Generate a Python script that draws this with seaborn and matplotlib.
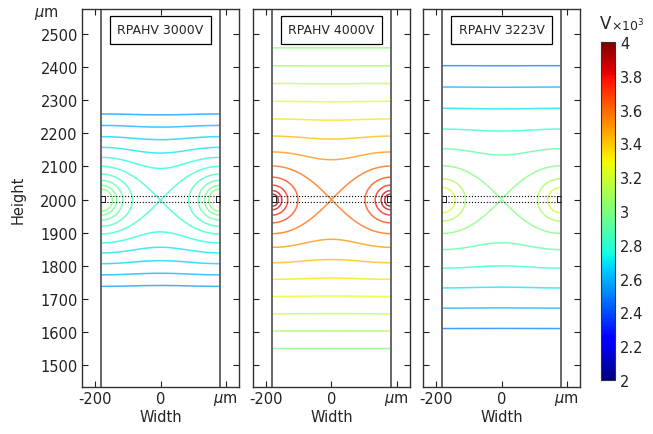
import numpy as np
import matplotlib
matplotlib.use("Agg")
import matplotlib.pyplot as plt
from matplotlib.colors import Normalize
from matplotlib.cm import ScalarMappable
from matplotlib.patches import Rectangle
import seaborn as sns

# panel data
titles = ['RPAHV 3000V', 'RPAHV 4000V', 'RPAHV 3223V']
electrode_v = [3000, 4000, 3223]      # V on the electrodes
saddle_v = [2800, 3600, 3000]         # contour level through the centre point
slope = [1.4, 1.607, 1.582]           # V per um far from the electrodes
tilt = [0.0, 0.021, 0.037]            # small up/down asymmetry, V per um
levels_3000 = [2550, 2600, 2650, 2700, 2750, 2800, 2850, 2900, 2950, 3000]
levels_4000 = [3000, 3086, 3171, 3257, 3343, 3429, 3514, 3600, 3686, 3771, 3857, 3943]
levels_3223 = [2500, 2600, 2700, 2800, 2900, 3000, 3100, 3200]
all_levels = [levels_3000, levels_4000, levels_3223]

wall_x = 182          # um, channel walls at +-wall_x
centre_y = 1998       # um, electrode height
dotted_y = [1993, 2012]
cbar_ticks = [2000, 2200, 2400, 2600, 2800, 3000, 3200, 3400, 3600, 3800, 4000]
cbar_labels = ['2', '2.2', '2.4', '2.6', '2.8', '3', '3.2', '3.4', '3.6', '3.8', '4']
y_ticks = [1500, 1600, 1700, 1800, 1900, 2000, 2100, 2200, 2300, 2400, 2500]

sns.set_style("white")
plt.rcParams['font.family'] = ['DejaVu Sans']

fig = plt.figure(figsize=(6.53, 4.35), dpi=100)
lefts = [0.1256, 0.3874, 0.6478]
norm = Normalize(vmin=2000, vmax=4000)
cmap = plt.get_cmap('jet')

# grid between the walls
gx = np.linspace(-wall_x, wall_x, 500)
gy = np.linspace(1434, 2575, 1200)
X, Y = np.meshgrid(gx, gy)
d = 2 * wall_x

for i in range(3):
    ax = fig.add_axes([lefts[i], 0.108, 0.2404, 0.869])
    # potential of the electrode pair between insulating walls
    u = 2 * np.pi * (Y - centre_y) / d
    w = 2 * np.pi * (X - wall_x) / d
    V = saddle_v[i] + slope[i] * d / (2 * np.pi) * (np.log(4) - np.log(2 * (np.cosh(u) - np.cos(w)) + 1e-9))
    V = V + tilt[i] * (Y - centre_y)
    V = np.minimum(V, electrode_v[i] + 1)
    ax.contour(X, Y, V, levels=all_levels[i], cmap=cmap, norm=norm, linewidths=1.1, alpha=0.75)

    for xw in (-wall_x, wall_x):
        ax.axvline(xw, color='#5a5a5a', lw=1.3)
    for yd in dotted_y:
        ax.plot([-wall_x, wall_x], [yd, yd], color='black', ls=':', lw=0.8)
    # electrode blocks at the walls
    for x0 in (-wall_x, wall_x - 12):
        ax.add_patch(Rectangle((x0, dotted_y[0]), 12, dotted_y[1] - dotted_y[0],
                               fill=False, ec='#222222', lw=0.7))

    ax.set_xlim(-241, 241)
    ax.set_ylim(1434, 2575)
    ax.set_xticks([-200, 0, 200])
    ax.set_xticklabels(['-200', '0', r'$\mu$m'])
    ax.set_yticks(y_ticks)
    ax.tick_params(direction='in', length=4, top=True, right=True, left=True, bottom=True,
                   labelsize=10.5, colors='#222222', pad=3)
    if i > 0:
        ax.set_yticklabels([])
    for s in ax.spines.values():
        s.set_color('#333333')
        s.set_linewidth(1.0)
    ax.set_xlabel('Width', fontsize=10.5, labelpad=1)
    ax.text(0, 2513, titles[i], ha='center', va='center', fontsize=9,
            bbox=dict(boxstyle='square,pad=0.6', fc='white', ec='black', lw=0.9))

    if i == 0:
        ax.text(-0.23, 0.99, r'$\mu$m', transform=ax.transAxes, ha='center', va='center', fontsize=10.5)

fig.text(0.028, 0.54, 'Height', rotation=90, ha='center', va='center', fontsize=10.5)

cax = fig.add_axes([0.9204, 0.1241, 0.0214, 0.777])
sm = ScalarMappable(norm=norm, cmap=cmap)
cb = fig.colorbar(sm, cax=cax, ticks=cbar_ticks)
cb.ax.set_yticklabels(cbar_labels)
cb.ax.tick_params(direction='in', left=True, right=False, labelright=True, length=3,
                  labelsize=10.5, colors='#222222')
cb.outline.set_edgecolor('#333333')
fig.text(0.927, 0.945, 'V', fontsize=12, ha='center', va='center')
fig.text(0.962, 0.94, r'$\times10^3$', fontsize=9, ha='center', va='center')

fig.savefig('out.png', dpi=100)
